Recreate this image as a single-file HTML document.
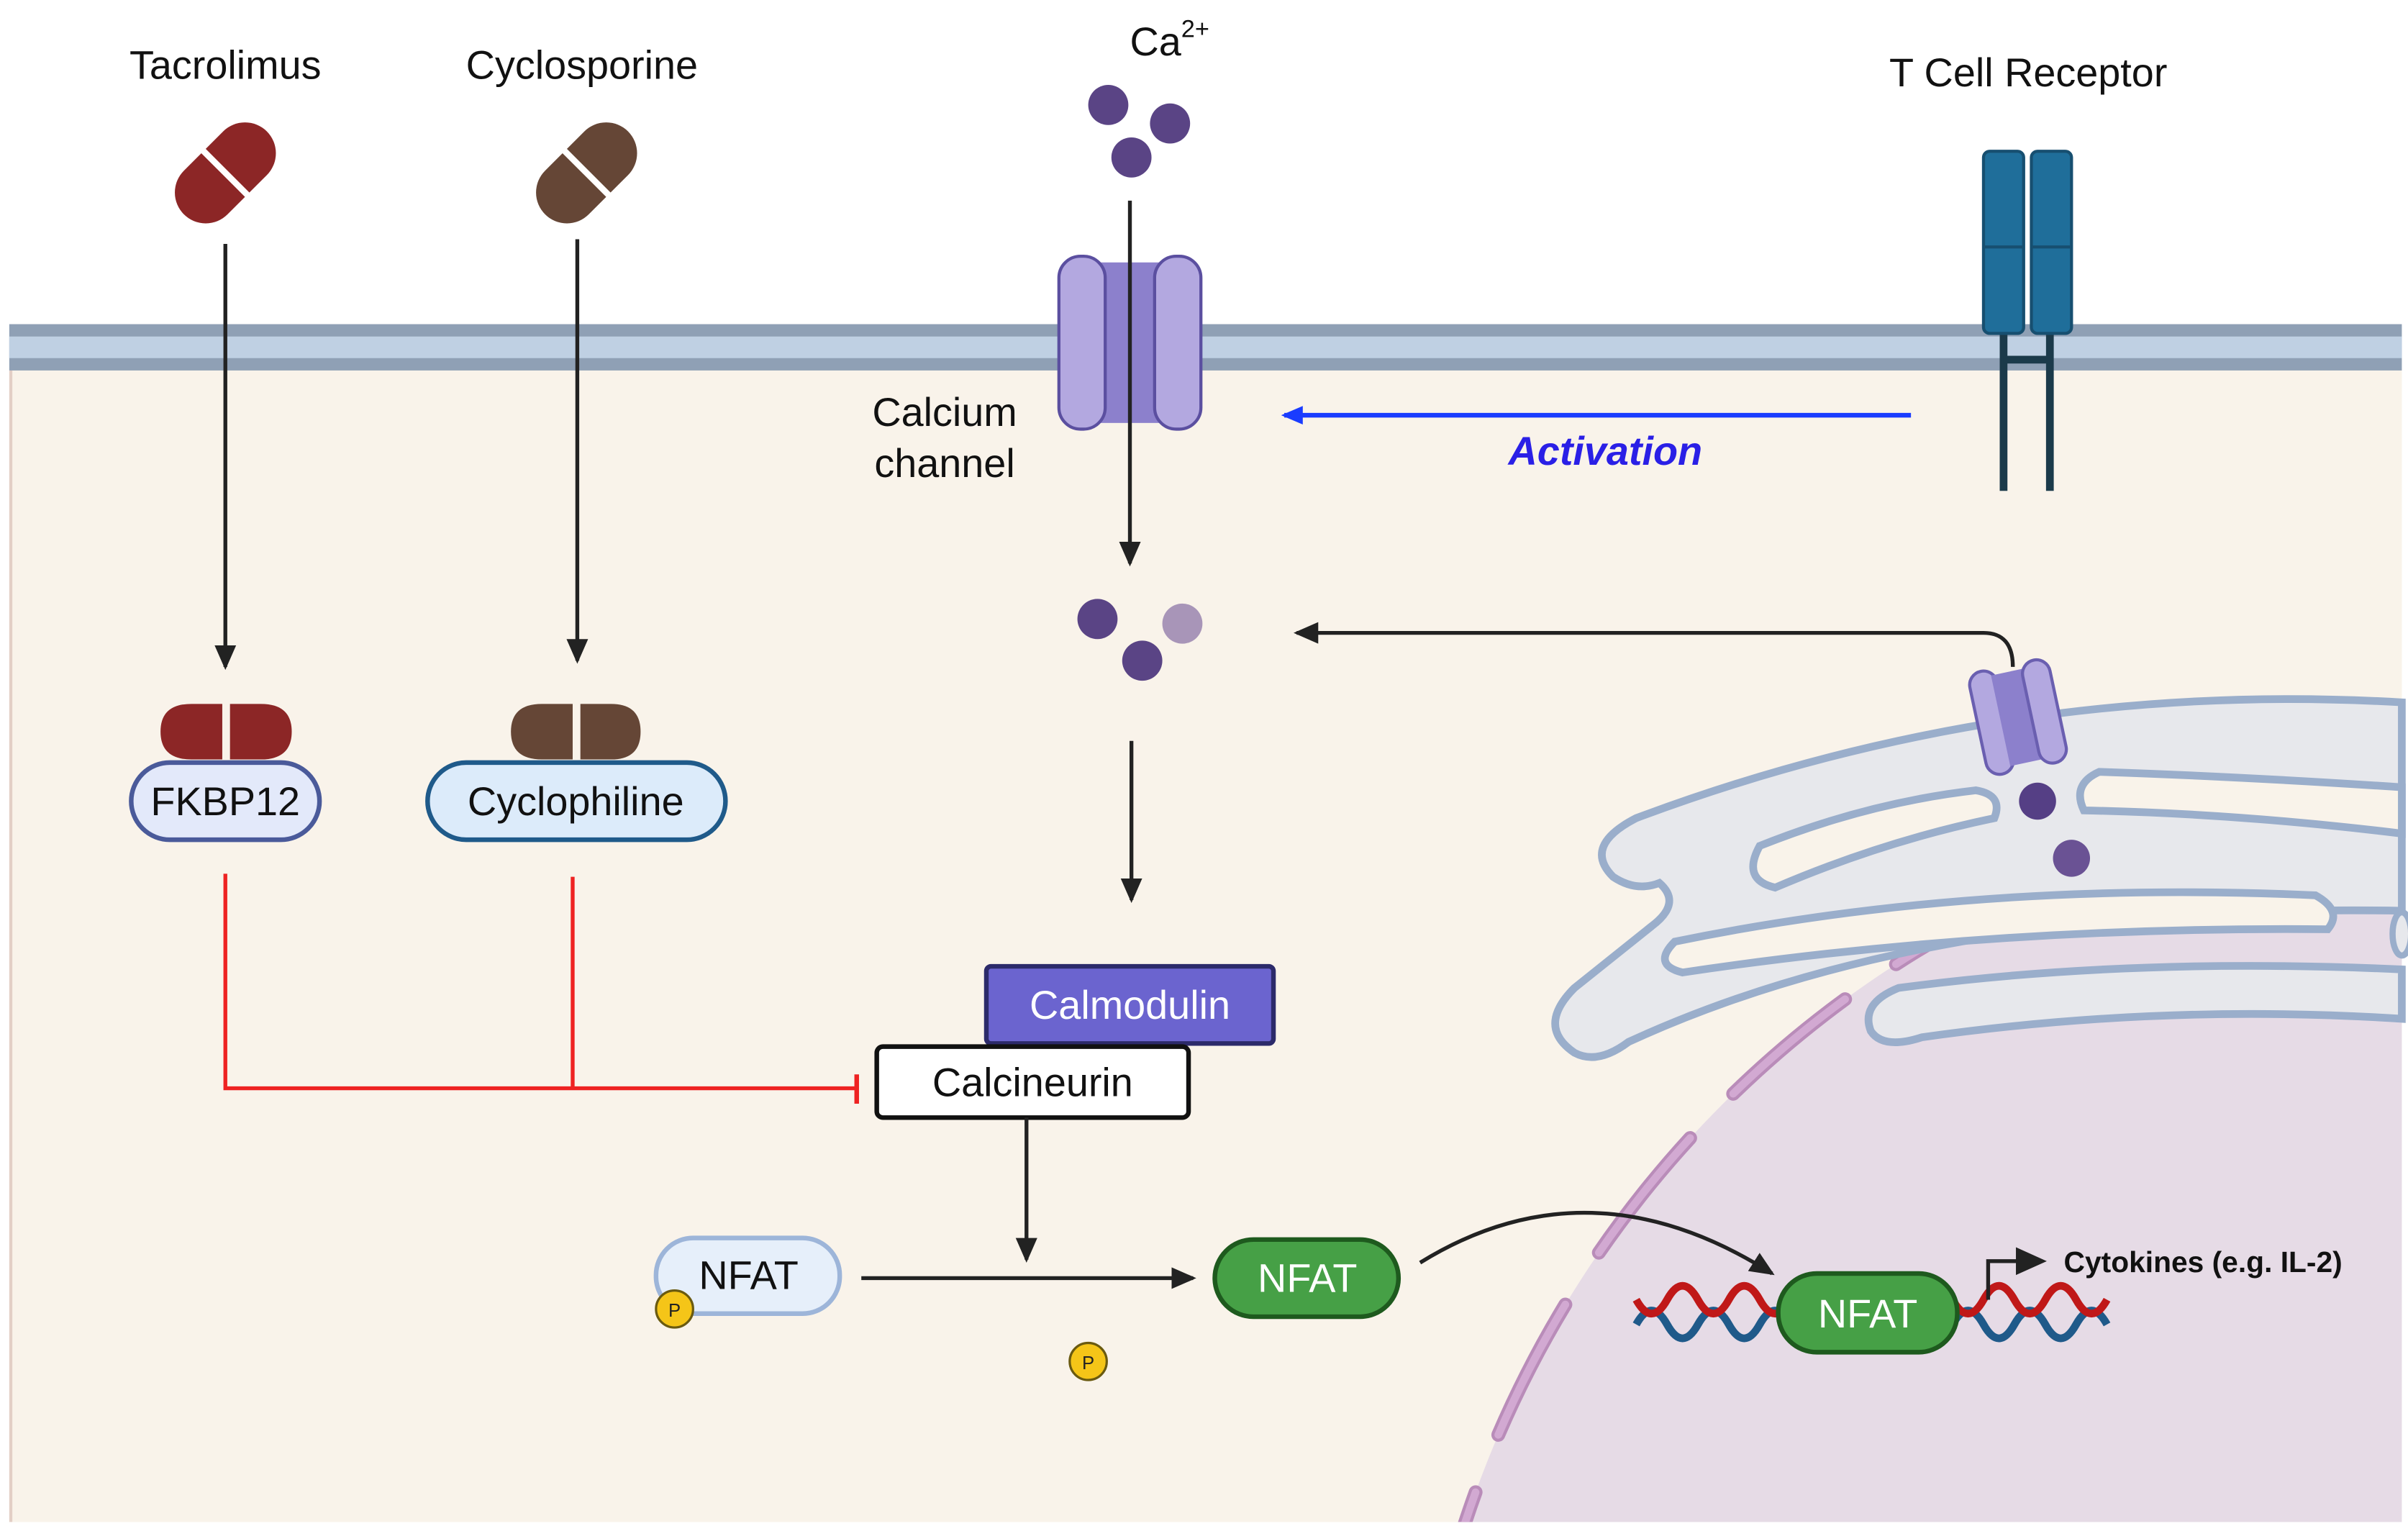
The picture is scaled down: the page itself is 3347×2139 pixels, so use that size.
<!DOCTYPE html>
<html><head><meta charset="utf-8"><style>
html,body{margin:0;padding:0;background:#fff;width:3347px;height:2139px;overflow:hidden;position:relative;}
svg{display:block;position:absolute;left:0;top:0;}
text{font-family:"Liberation Sans",sans-serif;}
</style></head><body>
<svg width="3347" height="2139" viewBox="0 0 1560 997" preserveAspectRatio="none" xmlns="http://www.w3.org/2000/svg">
<defs>
<marker id="ahb" markerWidth="14" markerHeight="12" refX="12" refY="6" orient="auto" markerUnits="userSpaceOnUse"><path d="M0,0 L14,6 L0,12 z" fill="#1a3cff"/></marker>
<marker id="ahk" markerWidth="16" markerHeight="14" refX="14" refY="7" orient="auto" markerUnits="userSpaceOnUse"><path d="M0,0 L16,7 L0,14 z" fill="#222"/></marker>
<clipPath id="cell"><rect x="6" y="240" width="1550" height="746"/></clipPath>
</defs>
<rect x="0" y="0" width="1560" height="997" fill="#fff"/>
<rect x="6" y="238" width="1550" height="748" fill="#f9f3ea"/>
<line x1="7" y1="240" x2="7" y2="986" stroke="#e3cfc6" stroke-width="2"/>
<g clip-path="url(#cell)">
<circle cx="1600" cy="1200" r="685" fill="#e6dbe6"/>
<circle cx="1600" cy="1200" r="685" fill="none" stroke="#b98cb9" stroke-width="9" stroke-dasharray="95 40" stroke-linecap="round"/>
<circle cx="1600" cy="1200" r="685" fill="none" stroke="#d2a9d2" stroke-width="5" stroke-dasharray="95 40" stroke-linecap="round"/>
</g>
<rect x="6" y="210" width="1550" height="30" fill="#8fa0b5"/>
<rect x="6" y="218" width="1550" height="14" fill="#bfd0e3"/>
<g stroke="#9aaecb" stroke-width="5" fill="#e7e8ec">
<path d="M1556,455 Q1300,440 1060,530 Q1025,548 1045,568 Q1060,578 1075,572 Q1090,585 1070,600 L1020,640 Q995,665 1020,682 Q1035,690 1055,675 Q1250,585 1556,590 Z"/>
<path d="M1556,628 Q1380,620 1230,640 Q1205,650 1212,668 Q1220,680 1245,672 Q1400,650 1556,660 Z"/>
</g>
<g stroke="#9aaecb" stroke-width="5" fill="#f9f3ea">
<path d="M1140,548 Q1210,520 1280,512 Q1298,515 1292,530 Q1220,545 1150,575 Q1128,570 1140,548 Z"/>
<path d="M1556,510 Q1450,503 1360,500 Q1342,508 1350,525 Q1450,527 1556,540 Z"/>
<path d="M1085,610 Q1280,570 1500,580 Q1518,590 1508,602 Q1290,600 1090,630 Q1070,625 1085,610 Z"/>
</g>
<ellipse cx="1556" cy="605" rx="6" ry="14" fill="#e7e8ec" stroke="#9aaecb" stroke-width="4"/>
<g transform="rotate(-12 1310 465)">
<rect x="1281" y="430" width="18" height="68" rx="9" fill="#b3a8e0" stroke="#6a5fb0" stroke-width="2"/>
<rect x="1296" y="434" width="22" height="60" fill="#8c80cc"/>
<rect x="1316" y="430" width="18" height="68" rx="9" fill="#b3a8e0" stroke="#6a5fb0" stroke-width="2"/>
</g>
<circle cx="1320" cy="519" r="12" fill="#553f85"/>
<circle cx="1342" cy="556" r="12" fill="#6a5294"/>
<path d="M1304,432 Q1304,410 1285,410 L840,410" fill="none" stroke="#222" stroke-width="2.5" marker-end="url(#ahk)"/>
<line x1="1298" y1="210" x2="1298" y2="318" stroke="#1b3a4a" stroke-width="5"/>
<line x1="1328" y1="210" x2="1328" y2="318" stroke="#1b3a4a" stroke-width="5"/>
<line x1="1298" y1="233" x2="1328" y2="233" stroke="#1b3a4a" stroke-width="5"/>
<rect x="1285" y="98" width="26" height="118" rx="4" fill="#1f6e9a" stroke="#174f70" stroke-width="2"/>
<rect x="1316" y="98" width="26" height="118" rx="4" fill="#1f6e9a" stroke="#174f70" stroke-width="2"/>
<line x1="1285" y1="160" x2="1311" y2="160" stroke="#174f70" stroke-width="2"/>
<line x1="1316" y1="160" x2="1342" y2="160" stroke="#174f70" stroke-width="2"/>
<text x="1314" y="56" font-size="26" text-anchor="middle" fill="#111">T Cell Receptor</text>
<line x1="1238" y1="269" x2="832" y2="269" stroke="#1a3cff" stroke-width="3" marker-end="url(#ahb)"/>
<text x="1040" y="301" font-size="26" font-weight="bold" font-style="italic" text-anchor="middle" fill="#2a1fe6">Activation</text>
<text x="732" y="36" font-size="26" fill="#111">Ca<tspan font-size="16" dy="-12">2+</tspan></text>
<circle cx="718" cy="68" r="13" fill="#5a4485"/>
<circle cx="758" cy="80" r="13" fill="#5a4485"/>
<circle cx="733" cy="102" r="13" fill="#5a4485"/>
<rect x="706" y="170" width="52" height="104" fill="#8c80cc"/>
<rect x="686" y="166" width="30" height="112" rx="14" fill="#b3a8e0" stroke="#5b4fa0" stroke-width="2"/>
<rect x="748" y="166" width="30" height="112" rx="14" fill="#b3a8e0" stroke="#5b4fa0" stroke-width="2"/>
<line x1="732" y1="130" x2="732" y2="365" stroke="#222" stroke-width="2.5" marker-end="url(#ahk)"/>
<text x="612" y="276" font-size="26" text-anchor="middle" fill="#111">Calcium</text>
<text x="612" y="309" font-size="26" text-anchor="middle" fill="#111">channel</text>
<circle cx="711" cy="401" r="13" fill="#5a4485"/>
<circle cx="740" cy="428" r="13" fill="#5a4485"/>
<circle cx="766" cy="404" r="13" fill="#a895b8"/>
<line x1="733" y1="480" x2="733" y2="583" stroke="#222" stroke-width="2.5" marker-end="url(#ahk)"/>
<rect x="639" y="626" width="186" height="50" rx="3" fill="#6b64cf" stroke="#2c2a6a" stroke-width="3"/>
<text x="732" y="660" font-size="26" text-anchor="middle" fill="#fff">Calmodulin</text>
<rect x="568" y="678" width="202" height="46" rx="4" fill="#fff" stroke="#111" stroke-width="3"/>
<text x="669" y="710" font-size="26" text-anchor="middle" fill="#111">Calcineurin</text>
<line x1="665" y1="724" x2="665" y2="816" stroke="#222" stroke-width="2.5" marker-end="url(#ahk)"/>
<rect x="425" y="802" width="119" height="49" rx="24" fill="#e6effa" stroke="#9db5d9" stroke-width="3"/>
<text x="485" y="835" font-size="26" text-anchor="middle" fill="#111">NFAT</text>
<circle cx="437" cy="848" r="12" fill="#f5c518" stroke="#6a5a10" stroke-width="1.5"/>
<text x="437" y="853" font-size="12" text-anchor="middle" fill="#222">P</text>
<line x1="558" y1="828" x2="773" y2="828" stroke="#222" stroke-width="2.5" marker-end="url(#ahk)"/>
<circle cx="705" cy="882" r="12" fill="#f5c518" stroke="#6a5a10" stroke-width="1.5"/>
<text x="705" y="887" font-size="12" text-anchor="middle" fill="#222">P</text>
<rect x="787" y="803" width="119" height="50" rx="25" fill="#46a046" stroke="#1e5a1e" stroke-width="3"/>
<text x="847" y="837" font-size="26" text-anchor="middle" fill="#fff">NFAT</text>
<path d="M920,818 Q1030,750 1148,825" fill="none" stroke="#222" stroke-width="2.5" marker-end="url(#ahk)"/>
<path d="M1060,858 q10,-18 20,0 t20,0 t20,0 t20,0 t20,0 t20,0 M1265,858 q10,-18 20,0 t20,0 t20,0 t20,0 t20,0" fill="none" stroke="#1f5a8a" stroke-width="5"/>
<path d="M1060,842 q10,18 20,0 t20,0 t20,0 t20,0 t20,0 t20,0 M1265,842 q10,18 20,0 t20,0 t20,0 t20,0 t20,0" fill="none" stroke="#c01818" stroke-width="5"/>
<rect x="1152" y="825" width="116" height="51" rx="25" fill="#46a046" stroke="#1e5a1e" stroke-width="3"/>
<text x="1210" y="860" font-size="26" text-anchor="middle" fill="#fff">NFAT</text>
<path d="M1288,842 L1288,817 L1308,817" fill="none" stroke="#222" stroke-width="2.5"/>
<path d="M1306,808 L1326,817 L1306,826 z" fill="#222"/>
<text x="1337" y="824" font-size="19" font-weight="bold" fill="#111">Cytokines (e.g. IL-2)</text>
<text x="146" y="51" font-size="26" text-anchor="middle" fill="#111">Tacrolimus</text>
<text x="377" y="51" font-size="26" text-anchor="middle" fill="#111">Cyclosporine</text>
<g transform="rotate(-45 146 112)"><rect x="108" y="92" width="76" height="40" rx="20" fill="#8c2626"/><line x1="146" y1="90" x2="146" y2="134" stroke="#fff" stroke-width="4"/></g>
<g transform="rotate(-45 380 112)"><rect x="342" y="92" width="76" height="40" rx="20" fill="#654636"/><line x1="380" y1="90" x2="380" y2="134" stroke="#fff" stroke-width="4"/></g>
<line x1="146" y1="158" x2="146" y2="432" stroke="#222" stroke-width="2.5" marker-end="url(#ahk)"/>
<line x1="374" y1="155" x2="374" y2="428" stroke="#222" stroke-width="2.5" marker-end="url(#ahk)"/>
<path d="M144,456 L124,456 Q104,456 104,474 Q104,492 124,492 L144,492 Z M149,456 L169,456 Q189,456 189,474 Q189,492 169,492 L149,492 Z" fill="#8c2626"/>
<path d="M371,456 L351,456 Q331,456 331,474 Q331,492 351,492 L371,492 Z M376,456 L396,456 Q415,456 415,474 Q415,492 396,492 L376,492 Z" fill="#654636"/>
<rect x="85" y="494" width="122" height="50" rx="25" fill="#e3e9fa" stroke="#4a5a9a" stroke-width="3"/>
<text x="146" y="528" font-size="26" text-anchor="middle" fill="#111">FKBP12</text>
<rect x="277" y="494" width="193" height="50" rx="25" fill="#dcebfa" stroke="#1f5a8a" stroke-width="3"/>
<text x="373" y="528" font-size="26" text-anchor="middle" fill="#111">Cyclophiline</text>
<path d="M146,566 L146,705 L555,705 M371,568 L371,705" fill="none" stroke="#ee2222" stroke-width="2.5"/>
<line x1="555" y1="696" x2="555" y2="715" stroke="#ee2222" stroke-width="3"/>
</svg>
</body></html>
